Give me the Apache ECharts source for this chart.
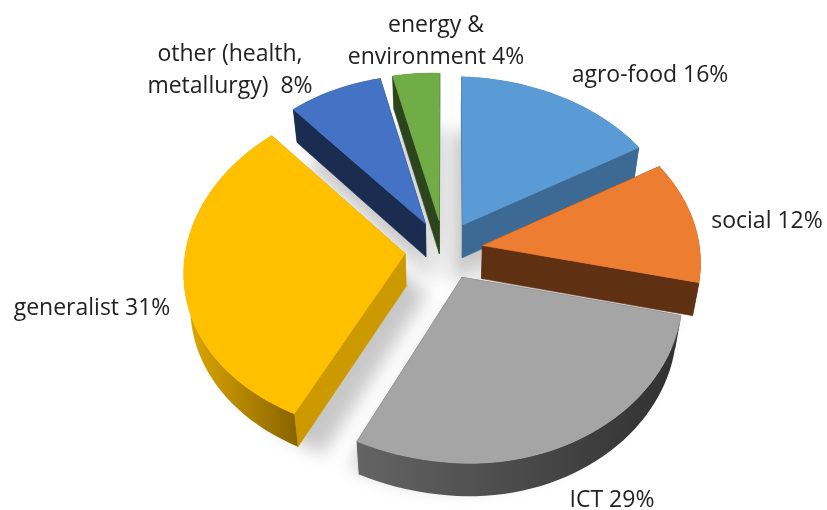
<!DOCTYPE html>
<html>
<head>
<meta charset="utf-8">
<style>html,body{margin:0;padding:0;background:#fff}#chart{width:827px;height:510px}</style>
<script src="https://cdn.jsdelivr.net/npm/echarts@6/dist/echarts.min.js"></script>
</head>
<body>
<div id="chart"></div>
<script>
// shares in clockwise order starting at twelve o'clock
const categories = ['agro-food', 'social', 'ICT', 'generalist', 'other', 'energy'];
const shares = [16, 12, 29, 31, 8, 4];
const labels = ['agro-food 16%', 'social 12%', 'ICT 29%', 'generalist 31%', 'other (health,\nmetallurgy)  8%', 'energy &\nenvironment 4%'];

const topColors = ['#5B9BD5', '#ED7D31', '#A5A5A5', '#FFC000', '#4472C4', '#70AD47'];
const cutColors = ['#3D6A94', '#5F3012', '#555555', '#CC9900', '#1A2C50', '#2C451C'];
// outer wall, left to right
const wallLeft = ['#3D6A94', '#5F3012', '#646464', '#E0AA00', '#1A2C50', '#2C451C'];
const wallRight = ['#3D6A94', '#5F3012', '#303030', '#8A6500', '#1A2C50', '#2C451C'];
const labelAnchors = [[650, 75], [767, 221], [612, 500], [92, 308], [230, 70], [436, 41]];
// back to front, social wall sits over the ICT top
const drawOrder = [5, 4, 0, 2, 1, 3];

const CX = 444, CY = 250, SX = 218, SY = 165, DEPTH = 33, EXPLODE = 0.18;
const PERSP_LEFT = 0.13, PERSP_RIGHT = 0.06, PERSP_Y = 0.086, SHEAR = 6;
const OFFSCREEN = 2000;

function project(x, c, z) {
    let wx = 1 + (x > 0 ? PERSP_RIGHT : PERSP_LEFT) * c;
    let wy = 1 + PERSP_Y * c;
    return [CX + SX * x / wx * (1 - 0.025 * z), CY - SY * c / wy + SHEAR * x + DEPTH * z];
}

function sliceGeom(i, explode) {
    let total = shares.reduce((a, b) => a + b, 0);
    let before = shares.slice(0, i).reduce((a, b) => a + b, 0);
    let a0 = before / total * Math.PI * 2;
    let a1 = (before + shares[i]) / total * Math.PI * 2;
    let mid = (a0 + a1) / 2;
    let ox = explode * Math.sin(mid), oc = explode * Math.cos(mid);
    let arc = [];
    let steps = Math.max(4, Math.round(shares[i] * 1.5));
    for (let k = 0; k <= steps; k++) {
        let a = a0 + (a1 - a0) * k / steps;
        arc.push([ox + Math.sin(a), oc + Math.cos(a)]);
    }
    return { apex: [ox, oc], arc };
}

function poly(points, fill) {
    return {
        type: 'polygon',
        shape: { points },
        style: { fill, stroke: fill, lineWidth: 0.6 }
    };
}

function renderSlice(params, api) {
    let i = api.value(0);
    let g = sliceGeom(i, EXPLODE);
    let children = [];
    let apexTop = project(g.apex[0], g.apex[1], 0), apexBottom = project(g.apex[0], g.apex[1], 1);
    let first = g.arc[0], last = g.arc[g.arc.length - 1];
    let cut = p => [apexTop, project(p[0], p[1], 0), project(p[0], p[1], 1), apexBottom];

    children.push(poly(cut(first), cutColors[i]));
    children.push(poly(cut(last), cutColors[i]));

    let upper = g.arc.map(p => project(p[0], p[1], 0));
    let lower = g.arc.map(p => project(p[0], p[1], 1)).reverse();
    let wall = upper.concat(lower);
    let xs = wall.map(p => p[0]);
    // only the part of the arc facing the viewer shows, so the gradient spans that part
    let front = g.arc.map((p, k) => [p, k]).filter(o => o[0][1] - g.apex[1] < 0).map(o => upper[o[1]][0]);
    let x0 = Math.min.apply(null, front.length ? front : xs), x1 = Math.max.apply(null, front.length ? front : xs);
    let grad = new echarts.graphic.LinearGradient(x0, 0, x1 + 1, 0, [
        { offset: 0, color: wallLeft[i] }, { offset: 1, color: wallRight[i] }
    ], true);
    children.push({ type: 'polygon', shape: { points: wall }, style: { fill: grad } });

    children.push(poly([apexTop].concat(upper), topColors[i]));
    return { type: 'group', children };
}

// shape sits off the canvas, only its blurred shadow lands on the page
function renderShadow(params, api) {
    let i = api.value(0);
    let g = sliceGeom(i, 0.08);
    let points = [project(g.apex[0], g.apex[1], 1.3)].concat(g.arc.map(p => project(p[0], p[1], 1.3)));
    return {
        type: 'polygon',
        shape: { points: points.map(p => [p[0] - OFFSCREEN, p[1]]) },
        style: { fill: '#000', shadowColor: '#c8c8c8', shadowBlur: 18, shadowOffsetX: OFFSCREEN }
    };
}

function renderLabel(params, api) {
    let i = api.value(0);
    return {
        type: 'text',
        style: {
            x: labelAnchors[i][0], y: labelAnchors[i][1],
            text: labels[i], fill: '#222222',
            font: '23px "Open Sans"',
            align: 'center', verticalAlign: 'middle', lineHeight: 32
        }
    };
}

const chart = echarts.init(document.getElementById('chart'), null, { renderer: 'canvas' });
chart.setOption({
    animation: false,
    backgroundColor: '#fff',
    series: [
        { type: 'custom', coordinateSystem: 'none', silent: true, z: 1, renderItem: renderShadow, data: drawOrder.map(i => [i, shares[i]]) },
        { type: 'custom', coordinateSystem: 'none', silent: true, z: 2, renderItem: renderSlice, data: drawOrder.map(i => [i, shares[i]]) },
        { type: 'custom', coordinateSystem: 'none', silent: true, z: 3, renderItem: renderLabel, data: categories.map((c, i) => [i, shares[i]]) }
    ]
});
</script>
</body>
</html>
